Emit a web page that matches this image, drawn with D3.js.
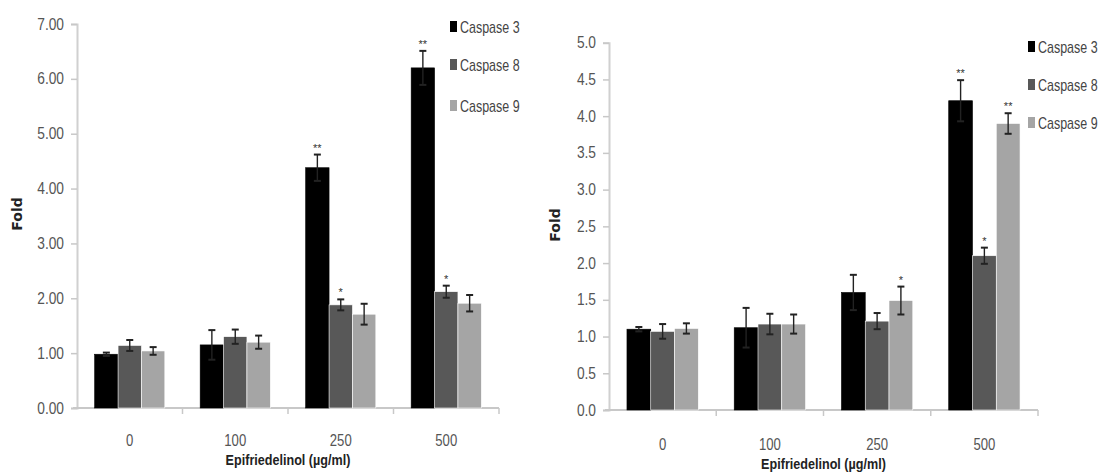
<!DOCTYPE html>
<head>
    <meta charset="utf-8">
    <script src="https://d3js.org/d3.v7.min.js"></script>
    <style type="text/css">
        html, body { margin: 0; background: #fff; }
        svg { display: block; }
        text { font-family: "Liberation Sans", Arial, sans-serif; }
    </style>
</head>
<body>
<script type="text/javascript">
    // shared categories / series
    var doses = ["0", "100", "250", "500"];
    var seriesNames = ["Caspase 3", "Caspase 8", "Caspase 9"];
    var seriesColors = ["#000000", "#585858", "#a5a5a5"];

    // left panel
    var leftC3 = [0.98, 1.15, 4.38, 6.20], leftC3Err = [0.03, 0.27, 0.24, 0.31];
    var leftC8 = [1.14, 1.30, 1.88, 2.12], leftC8Err = [0.10, 0.13, 0.10, 0.11];
    var leftC9 = [1.04, 1.20, 1.71, 1.91], leftC9Err = [0.07, 0.12, 0.19, 0.15];
    var leftStars = [["", "", "**", "**"], ["", "", "*", "*"], ["", "", "", ""]];
    var leftTicks = [0, 1, 2, 3, 4, 5, 6, 7];

    // right panel
    var rightC3 = [1.10, 1.12, 1.60, 4.21], rightC3Err = [0.03, 0.27, 0.24, 0.28];
    var rightC8 = [1.07, 1.17, 1.21, 2.10], rightC8Err = [0.10, 0.14, 0.11, 0.11];
    var rightC9 = [1.11, 1.17, 1.49, 3.90], rightC9Err = [0.07, 0.13, 0.19, 0.14];
    var rightStars = [["", "", "", "**"], ["", "", "", "*"], ["", "", "*", "**"]];
    var rightTicks = [0, 0.5, 1, 1.5, 2, 2.5, 3, 3.5, 4, 4.5, 5];

    var svg = d3.select("body").append("svg")
        .attr("width", 1104).attr("height", 474);

    // narrow text: the original uses a compressed Calibri look
    function ntext(g, x, y, str, size, sx, anchor) {
        return g.append("text")
            .attr("transform", "translate(" + x + "," + y + ") scale(" + sx + ",1)")
            .attr("text-anchor", anchor || "start")
            .style("font-size", size + "px")
            .text(str);
    }

    function drawPanel(p) {
        var x = d3.scaleBand().domain(doses).range([p.x0, p.x1]).paddingInner(0.335).paddingOuter(0.1675);
        var xs = d3.scaleBand().domain(seriesNames).range([0, x.bandwidth()]);
        var y = d3.scaleLinear().domain([0, p.ymax]).range([p.y0, p.y1]);
        var g = svg.append("g");

        // y axis
        var ya = g.append("g").attr("transform", "translate(" + p.x0 + ",0)")
            .call(d3.axisLeft(y).tickValues(p.ticks).tickFormat(d3.format(p.fmt)).tickSize(6));
        ya.select(".domain").attr("stroke", "#d0d0d0").attr("stroke-width", 2);
        ya.selectAll(".tick line").attr("stroke", "#c8c8c8").attr("stroke-width", 1.5);
        ya.selectAll(".tick text").remove();
        p.ticks.forEach(function(t) {
            ntext(g, p.x0 - 13, y(t) + 5.5, d3.format(p.fmt)(t), 16, 0.86, "end").attr("fill", "#555");
        });

        // x axis: line + boundary ticks
        g.append("line").attr("x1", p.x0 - 4).attr("x2", p.x1).attr("y1", p.y0).attr("y2", p.y0)
            .attr("stroke", "#c8c8c8").attr("stroke-width", 2);
        var step = x.step();
        g.selectAll(".bt").data(doses).enter().append("line")
            .attr("x1", function(d) { return x(d) - x.paddingInner() * step / 2 + step; })
            .attr("x2", function(d) { return x(d) - x.paddingInner() * step / 2 + step; })
            .attr("y1", p.y0).attr("y2", p.y0 + 6)
            .attr("stroke", "#c8c8c8").attr("stroke-width", 1.5);
        doses.forEach(function(d) {
            ntext(g, x(d) + x.bandwidth() / 2, p.y0 + p.xlab, d, 16, 0.82, "middle").attr("fill", "#555");
        });

        // bars
        p.series.forEach(function(s, si) {
            var sg = g.append("g");
            sg.selectAll("rect").data(doses).enter().append("rect")
                .attr("x", function(d) { return x(d) + xs(seriesNames[si]); })
                .attr("width", xs.bandwidth())
                .attr("y", function(d, i) { return y(s.v[i]); })
                .attr("height", function(d, i) { return p.y0 - y(s.v[i]); })
                .attr("fill", seriesColors[si])
                .attr("stroke", si == 0 ? "#000" : "#fff").attr("stroke-width", 0.6);
        });

        // error bars + stars
        p.series.forEach(function(s, si) {
            doses.forEach(function(d, i) {
                var cx = x(d) + xs(seriesNames[si]) + xs.bandwidth() / 2;
                var top = y(s.v[i] + s.e[i]), bot = y(s.v[i] - s.e[i]);
                g.append("line").attr("x1", cx).attr("x2", cx).attr("y1", top).attr("y2", bot)
                    .attr("stroke", "#222").attr("stroke-width", 1.4);
                [top, bot].forEach(function(yy) {
                    g.append("line").attr("x1", cx - 3.5).attr("x2", cx + 3.5).attr("y1", yy).attr("y2", yy)
                        .attr("stroke", "#222").attr("stroke-width", 2);
                });
                if (s.star[i]) {
                    g.append("text").attr("x", cx).attr("y", top - 3).attr("text-anchor", "middle")
                        .attr("fill", "#333").style("font-size", "11px")
                        .text(s.star[i]);
                }
            });
        });

        // axis titles
        ntext(g, (p.x0 + p.x1) / 2, p.y0 + p.xtitle, "Epifriedelinol (µg/ml)", 15, 0.84, "middle")
            .attr("fill", "#222").style("font-weight", "bold");
        g.append("text").attr("transform", "translate(" + p.foldX + "," + p.foldY + ") rotate(-90)")
            .attr("text-anchor", "middle").attr("fill", "#222")
            .style("font-family", "DejaVu Sans").style("font-size", "14px").style("font-weight", "bold")
            .text("Fold");

        // legend
        seriesNames.forEach(function(n, i) {
            var ly = p.legY[i];
            g.append("rect").attr("x", p.legX).attr("y", ly - 6).attr("width", 7).attr("height", 11)
                .attr("fill", seriesColors[i]);
            ntext(g, p.legX + 10, ly + 5.5, n, 16, 0.78).attr("fill", "#444");
        });
    }

    drawPanel({
        x0: 77, x1: 499, y0: 408, y1: 24, ymax: 7, ticks: leftTicks, fmt: ".2f",
        xlab: 38, xtitle: 57,
        foldX: 22, foldY: 214, legX: 450, legY: [27, 65, 106],
        series: [
            { v: leftC3, e: leftC3Err, star: leftStars[0] },
            { v: leftC8, e: leftC8Err, star: leftStars[1] },
            { v: leftC9, e: leftC9Err, star: leftStars[2] }
        ]
    });

    drawPanel({
        x0: 609, x1: 1038, y0: 410, y1: 42.7, ymax: 5, ticks: rightTicks, fmt: ".1f",
        xlab: 40, xtitle: 59,
        foldX: 560, foldY: 225, legX: 1028, legY: [47, 85, 123],
        series: [
            { v: rightC3, e: rightC3Err, star: rightStars[0] },
            { v: rightC8, e: rightC8Err, star: rightStars[1] },
            { v: rightC9, e: rightC9Err, star: rightStars[2] }
        ]
    });
</script>
</body>
